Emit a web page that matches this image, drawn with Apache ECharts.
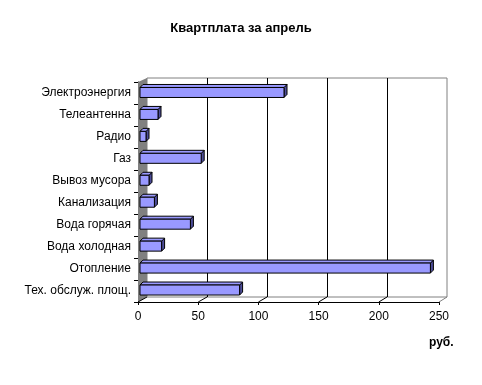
<!DOCTYPE html>
<html><head><meta charset="utf-8">
<script src="https://cdn.jsdelivr.net/npm/echarts@6/dist/echarts.min.js"></script>
<style>html,body{margin:0;padding:0;background:#fff}#c{width:482px;height:385px}</style>
</head><body><div id="c"></div>
<script>
const categories = ['Электроэнергия','Телеантенна','Радио','Газ','Вывоз мусора','Канализация','Вода горячая','Вода холодная','Отопление','Тех. обслуж. площ.'];
const values = [120, 15, 5, 51, 7.5, 12, 42, 18, 242, 83];
const xTicks = [0, 50, 100, 150, 200, 250];
const titleText = 'Квартплата за апрель';
const unitText = 'руб.';

const font = 'Liberation Sans, Arial, sans-serif';
const chart = echarts.init(document.getElementById('c'), null, {renderer: 'canvas'});
const DEPTH = 3, HALF = 5;
function renderBar(params, api) {
  const v = api.value(0);
  const c = api.value(1);
  const p0 = api.coord([0, c]);
  const p1 = api.coord([v, c]);
  const x0 = p0[0], x1 = p1[0], yc = p1[1];
  const yt = yc - HALF, yb = yc + HALF, d = DEPTH;
  const st = {stroke: '#000', lineWidth: 1};
  return {type: 'group', children: [
    {type: 'polygon', shape: {points: [[x1, yt], [x1 + d, yt - d], [x1 + d, yb - d], [x1, yb]]}, style: Object.assign({fill: '#4D4D99'}, st)},
    {type: 'polygon', shape: {points: [[x0, yt], [x0 + d, yt - d], [x1 + d, yt - d], [x1, yt]]}, style: Object.assign({fill: '#9999FF'}, st)},
    {type: 'rect', shape: {x: x0, y: yt, width: x1 - x0, height: yb - yt}, style: Object.assign({fill: '#9999FF'}, st)}
  ]};
}
const option = {
  backgroundColor: '#fff',
  animation: false,
  title: [
    {text: titleText, left: 'center', top: 17, textStyle: {fontFamily: font, fontSize: 13, fontWeight: 'bold', color: '#000'}},
    {text: unitText, left: 424, top: 332, textStyle: {fontFamily: font, fontSize: 12, fontWeight: 'bold', color: '#000'}}
  ],
  grid: [
    {left: 147, top: 78, width: 300, height: 219, show: true, borderColor: '#808080', borderWidth: 1, backgroundColor: 'transparent'},
    {left: 138, top: 82, width: 301, height: 220},
    {left: 140, top: 81.5, width: 300, height: 219.5}
  ],
  xAxis: [
    {gridIndex: 0, type: 'value', min: 0, max: 250, interval: 50, axisLabel: {show: false}, axisTick: {show: false}, axisLine: {show: false},
     splitLine: {show: true, showMinLine: false, showMaxLine: false, lineStyle: {color: '#000', width: 1}}},
    {gridIndex: 1, type: 'value', min: 0, max: 250, interval: 50, splitLine: {show: false},
     axisLine: {show: true, lineStyle: {color: '#000', width: 1}}, axisTick: {show: true, length: 3, lineStyle: {color: '#000'}},
     axisLabel: {fontFamily: font, fontSize: 12, color: '#000', margin: 9}},
    {gridIndex: 2, type: 'value', min: 0, max: 250, show: false, splitLine: {show: false}}
  ],
  yAxis: [
    {gridIndex: 0, type: 'category', data: categories, inverse: true, show: false},
    {gridIndex: 1, type: 'category', data: categories, inverse: true,
     axisLine: {show: true, lineStyle: {color: '#000', width: 1}}, axisTick: {show: true, length: 4, lineStyle: {color: '#000'}},
     axisLabel: {fontFamily: font, fontSize: 12, color: '#000', margin: 7}, splitLine: {show: false}},
    {gridIndex: 2, type: 'category', data: categories, inverse: true, show: false}
  ],
  series: [{
    type: 'custom', xAxisIndex: 2, yAxisIndex: 2, z: 5,
    data: values.map(function (v, i) { return [v, i]; }),
    encode: {x: 0, y: 1},
    renderItem: renderBar
  }]
};
chart.setOption(option);

// 3D wall and floor decorations, positioned from the axes
const topL = chart.convertToPixel({xAxisIndex: 1}, 0);
const backL = chart.convertToPixel({xAxisIndex: 0}, 0);
const g = [];
g.push({type: 'polygon', z: 1, shape: {points: [[topL, 82], [backL, 78], [backL, 297], [topL, 302]]}, style: {fill: '#808080'}});
xTicks.forEach(function (v) {
  const fx = chart.convertToPixel({xAxisIndex: 1}, v);
  const bx = chart.convertToPixel({xAxisIndex: 0}, v);
  g.push({type: 'line', z: 2, shape: {x1: fx, y1: 302, x2: bx, y2: 297}, style: {stroke: v === 250 ? '#808080' : '#000', lineWidth: 1}});
});
chart.setOption({graphic: g});
</script></body></html>
